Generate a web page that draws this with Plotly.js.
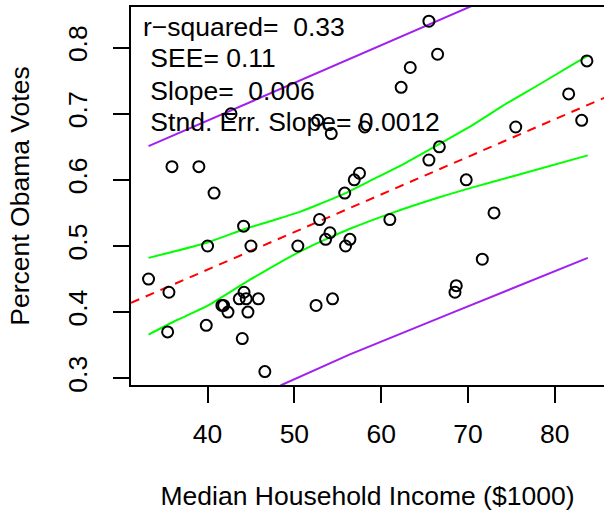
<!DOCTYPE html>
<html>
<head>
<meta charset="utf-8">
<script src="https://cdn.plot.ly/plotly-3.0.1.min.js"></script>
<style>html,body{margin:0;padding:0;background:#fff;overflow:hidden}</style>
</head>
<body>
<div id="chart" style="width:604px;height:515px"></div>
<script>
// State-level observations: median household income ($1000) vs Obama vote share
const incomeX = [42.7, 52.7, 54.25, 58.1, 35.9, 39.0, 40.75, 55.8, 56.9, 57.5,
  65.5, 66.5, 63.35, 62.3, 83.7, 81.6, 83.1, 75.5, 66.7, 65.5,
  69.8, 44.15, 40.0, 45.0, 50.4, 52.9, 54.1, 53.6, 56.4, 55.9,
  33.2, 35.55, 35.4, 39.85, 44.2, 43.65, 44.45, 45.85, 41.65, 41.85,
  42.35, 44.65, 44.0, 46.6, 52.5, 54.4, 61.0, 73.0, 71.65, 68.65, 68.5];
const obamaY = [0.70, 0.69, 0.67, 0.68, 0.62, 0.62, 0.58, 0.58, 0.60, 0.61,
  0.84, 0.79, 0.77, 0.74, 0.78, 0.73, 0.69, 0.68, 0.65, 0.63,
  0.60, 0.53, 0.50, 0.50, 0.50, 0.54, 0.52, 0.51, 0.51, 0.50,
  0.45, 0.43, 0.37, 0.38, 0.43, 0.42, 0.42, 0.42, 0.41, 0.41,
  0.40, 0.40, 0.36, 0.31, 0.41, 0.42, 0.54, 0.55, 0.48, 0.44, 0.43];

// Fitted regression line (read at plot edges)
const fitX = [31.18, 85.68];
const fitY = [0.414, 0.724];

// Confidence band (green)
const ciUpX = [33.2, 39.9, 44.15, 47.6, 50.7, 53.0, 55.9, 59.1, 63.0, 66.8, 70.65, 74.5, 78.3, 83.8];
const ciUpY = [0.482, 0.505, 0.525, 0.539, 0.552, 0.564, 0.580, 0.601, 0.627, 0.655, 0.684, 0.716, 0.745, 0.788];
const ciLoX = [33.2, 36.5, 39.9, 44.9, 50.7, 53.8, 56.4, 61.05, 66.8, 70.65, 75.6, 83.8];
const ciLoY = [0.366, 0.388, 0.409, 0.449, 0.492, 0.511, 0.526, 0.549, 0.574, 0.589, 0.607, 0.637];

// Prediction band (purple)
const piUpX = [33.2, 49.5, 70.6];
const piUpY = [0.651, 0.744, 0.864];
const piLoX = [48.4, 56.4, 68.0, 83.8];
const piLoY = [0.289, 0.336, 0.398, 0.482];

// Statistics text
const statLines = ["r\u2212squared=\u00a0\u00a00.33", "\u00a0SEE=\u00a00.11",
  "\u00a0Slope=\u00a0\u00a00.006", "\u00a0Stnd.\u00a0Err.\u00a0Slope=\u00a00.0012"];
const statY = [0.832, 0.784, 0.735, 0.687];

const xTicks = [40, 50, 60, 70, 80];
const yTicks = [0.3, 0.4, 0.5, 0.6, 0.7, 0.8];

const FONT = "Liberation Sans, Arial, Helvetica, sans-serif";
const FS = 26.5;

const traces = [
  {x: piUpX, y: piUpY, mode: 'lines', line: {color: '#A020F0', width: 2}, hoverinfo: 'skip'},
  {x: piLoX, y: piLoY, mode: 'lines', line: {color: '#A020F0', width: 2}, hoverinfo: 'skip'},
  {x: ciUpX, y: ciUpY, mode: 'lines', line: {color: '#00FF00', width: 2, shape: 'spline', smoothing: 0.6}, hoverinfo: 'skip'},
  {x: ciLoX, y: ciLoY, mode: 'lines', line: {color: '#00FF00', width: 2, shape: 'spline', smoothing: 0.6}, hoverinfo: 'skip'},
  {x: fitX, y: fitY, mode: 'lines', line: {color: '#FF0000', width: 2, dash: '9px,7px'}, hoverinfo: 'skip'},
  {x: incomeX, y: obamaY, mode: 'markers', cliponaxis: false,
   marker: {symbol: 'circle-open', size: 11, color: '#000', line: {color: '#000', width: 2}}}
];

const annotations = statLines.map((t, i) => ({
  x: 32.3, y: statY[i], xref: 'x', yref: 'y', xanchor: 'left', yanchor: 'middle',
  text: t, showarrow: false, font: {family: FONT, size: FS, color: '#000'}
}));

const layout = {
  width: 604, height: 515,
  margin: {l: 131, r: 0, t: 7, b: 130},
  paper_bgcolor: '#fff', plot_bgcolor: '#fff',
  showlegend: false,
  font: {family: FONT, size: FS, color: '#000'},
  xaxis: {
    range: [31.18, 85.67], tickmode: 'array', tickvals: xTicks,
    ticks: 'outside', ticklen: 16, tickwidth: 2, tickcolor: '#000',
    showline: true, mirror: true, linecolor: '#000', linewidth: 2,
    showgrid: false, zeroline: false, ticklabelstandoff: 8,
    tickfont: {family: FONT, size: FS, color: '#000'},
    title: {text: 'Median Household Income ($1000)', standoff: 39, font: {family: FONT, size: FS, color: '#000'}}
  },
  yaxis: {
    range: [0.2897, 0.8615], tickmode: 'array', tickvals: yTicks,
    ticktext: yTicks.map(v => v.toFixed(1)),
    ticks: 'outside', ticklen: 16, tickwidth: 2, tickcolor: '#000', tickangle: -90,
    showline: true, mirror: false, linecolor: '#000', linewidth: 2,
    showgrid: false, zeroline: false, ticklabelstandoff: 15,
    tickfont: {family: FONT, size: FS, color: '#000'},
    title: {text: 'Percent Obama Votes', standoff: 26, font: {family: FONT, size: FS, color: '#000'}}
  },
  annotations: annotations
};

Plotly.newPlot('chart', traces, layout, {displayModeBar: false, staticPlot: true});
</script>
</body>
</html>
